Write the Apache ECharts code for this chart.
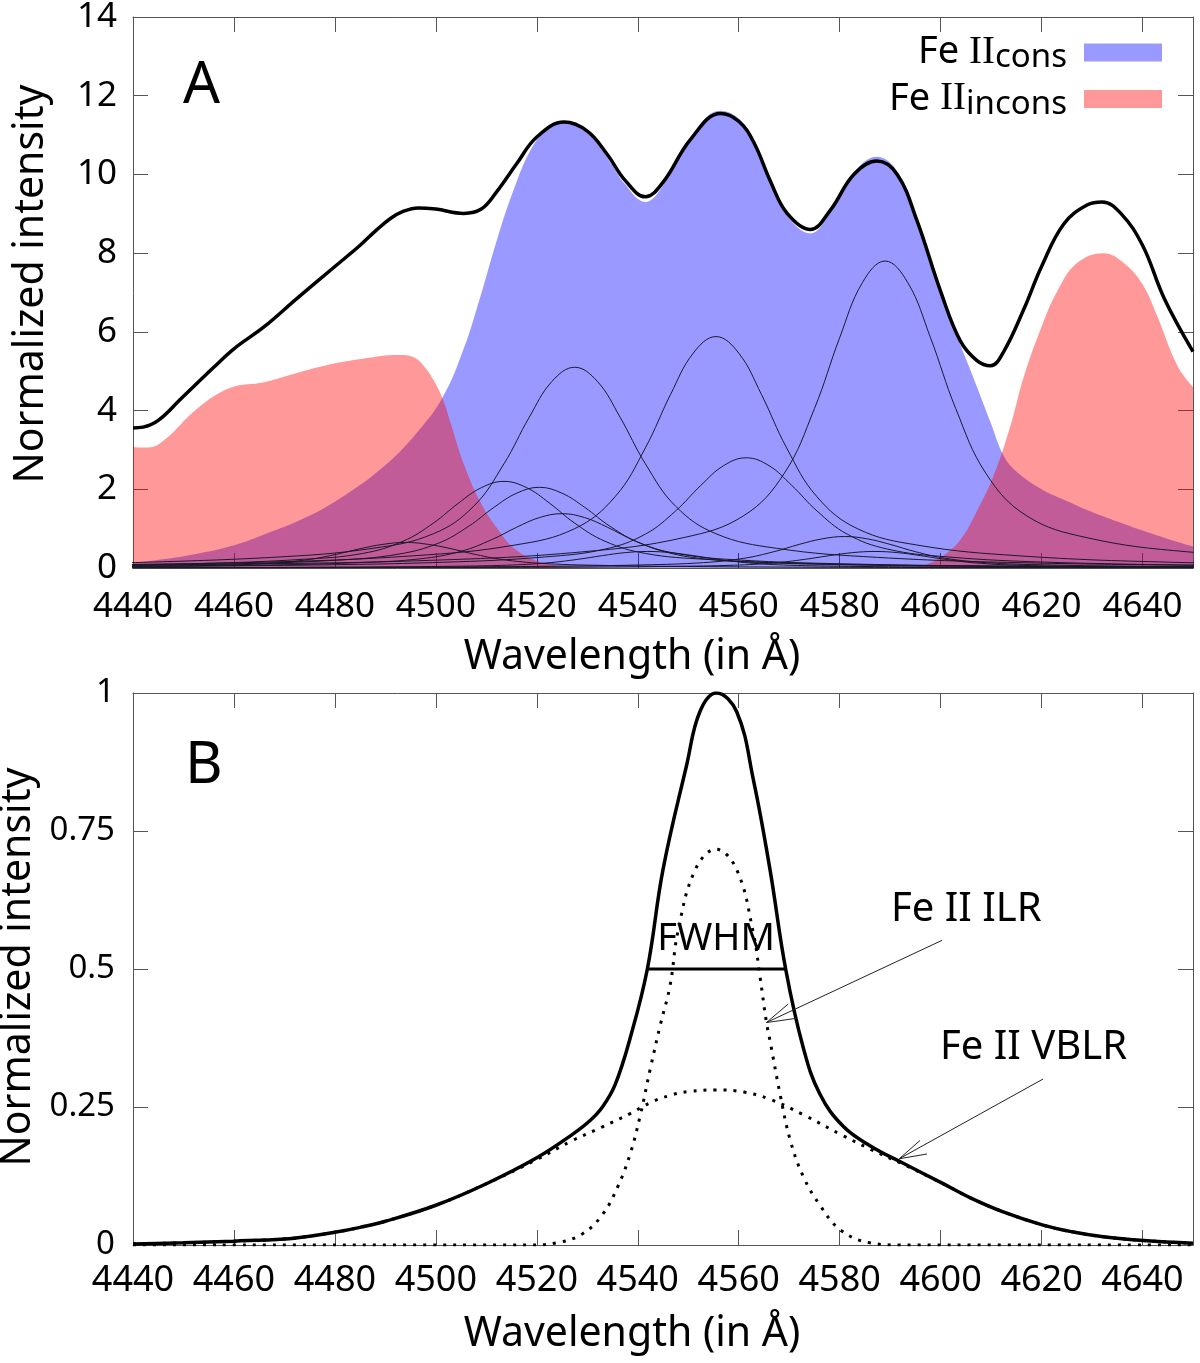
<!DOCTYPE html>
<html><head><meta charset="utf-8">
<script src="https://cdn.jsdelivr.net/npm/echarts@6/dist/echarts.min.js"></script>
<style>html,body{margin:0;padding:0;background:#fff}#c{width:1200px;height:1363px}</style>
</head><body><div id="c"></div>
<script>
// ---------- Panel A data (wavelength in Å, normalized intensity) ----------
const totalA = [[4440,3.56],[4442,3.58],[4445,3.75],[4449.5,4.3],[4456,5.1],[4460,5.57],[4466,6.13],[4472.5,6.85],[4480,7.66],[4485,8.2],[4488,8.56],[4491,8.88],[4493.5,9.06],[4496.5,9.15],[4500,9.12],[4505.5,9.01],[4509,9.12],[4512,9.55],[4516,10.27],[4520,10.95],[4525.4,11.33],[4530,11.1],[4534,10.5],[4537.5,9.85],[4541.5,9.43],[4545,9.8],[4550.5,10.9],[4556.4,11.55],[4560,11.35],[4563,10.81],[4566.3,9.82],[4569.6,9.01],[4574.2,8.6],[4578.2,9.1],[4582.8,10.0],[4587.4,10.34],[4591.4,10.0],[4595.3,8.83],[4600,7.03],[4603.9,5.77],[4607.2,5.27],[4609.9,5.14],[4612.5,5.5],[4616.5,6.58],[4620,7.66],[4624.4,8.74],[4629.1,9.23],[4632,9.3],[4635.7,9.01],[4640,8.2],[4644.3,6.85],[4650,5.5]];
const consA = [[4440,0.13],[4450,0.3],[4459.3,0.55],[4466,0.85],[4474.5,1.3],[4482,1.85],[4489.6,2.57],[4496,3.4],[4501.4,4.35],[4505.6,5.6],[4508.6,6.8],[4512.2,8.38],[4515.5,9.64],[4518.8,10.63],[4522.1,11.17],[4525.2,11.34],[4530,11.05],[4534,10.42],[4537.5,9.75],[4541.5,9.3],[4545,9.72],[4550.5,10.95],[4556.4,11.62],[4560,11.42],[4563,10.86],[4566.3,9.8],[4569.6,8.95],[4574.2,8.5],[4578.2,9.05],[4582.8,10.05],[4587.4,10.45],[4591.4,10.08],[4595.3,8.88],[4600,7.0],[4603.5,5.8],[4606,5.0],[4607.2,4.6],[4609.9,3.7],[4612.5,2.85],[4615,2.45],[4620,2.0],[4625,1.7],[4630,1.42],[4635,1.18],[4640,0.95],[4645,0.74],[4650,0.55]];
const inconsA = [[4440,3.07],[4443,3.06],[4446.2,3.25],[4452.8,4.06],[4459.3,4.58],[4466,4.72],[4471.3,4.91],[4478.3,5.15],[4485.8,5.32],[4492.4,5.41],[4495.7,5.35],[4497.5,5.15],[4499.5,4.78],[4501.5,4.25],[4503,3.65],[4505.6,2.62],[4509,1.63],[4512.2,1.0],[4515.5,0.5],[4520,0.18],[4525,0.05],[4530,0.01],[4540,0],[4590,0],[4595.9,0.05],[4600,0.27],[4603.9,0.72],[4607.2,1.45],[4610.5,2.35],[4613.8,3.6],[4616.5,4.87],[4620,6.13],[4623.1,7.03],[4627,7.75],[4632.3,8.0],[4636.3,7.75],[4640,7.21],[4642.9,6.4],[4646.9,5.14],[4650,4.6]];
// individual Fe II line components (thin black curves)
const comp1 = [[4437.5,0.13],[4467.5,0.27],[4487.5,0.5],[4499.5,0.87],[4507.5,1.57],[4513.5,2.65],[4518.5,3.83],[4523,4.74],[4527.5,5.1],[4532,4.74],[4536.5,3.83],[4541.5,2.65],[4547.5,1.57],[4555.5,0.87],[4567.5,0.5],[4587.5,0.27],[4617.5,0.13],[4657.5,0.064]];
const comp2 = [[4425.5,0.074],[4465.5,0.147],[4495.5,0.31],[4515.5,0.58],[4527.5,1.0],[4535.5,1.81],[4541.5,3.05],[4546.5,4.41],[4551,5.46],[4555.5,5.88],[4560,5.46],[4564.5,4.41],[4569.5,3.05],[4575.5,1.81],[4583.5,1.0],[4595.5,0.58],[4615.5,0.31],[4645.5,0.147],[4685.5,0.074]];
const comp3 = [[4431.5,0.035],[4471.5,0.07],[4501.5,0.146],[4521.5,0.28],[4533.5,0.48],[4541.5,0.86],[4547.5,1.45],[4552.5,2.1],[4557,2.6],[4561.5,2.8],[4566,2.6],[4570.5,2.1],[4575.5,1.45],[4581.5,0.86],[4589.5,0.48],[4601.5,0.28],[4621.5,0.146],[4651.5,0.07]];
const comp4 = [[4419,0.058],[4459,0.0975],[4499,0.195],[4529,0.41],[4549,0.77],[4561,1.33],[4569,2.4],[4575,4.05],[4580,5.85],[4584.5,7.25],[4589,7.8],[4593.5,7.25],[4598,5.85],[4603,4.05],[4609,2.4],[4617,1.33],[4629,0.77],[4649,0.41],[4679,0.195]];
const comp5 = [[4423.5,0.055],[4453.5,0.114],[4473.5,0.22],[4485.5,0.37],[4493.5,0.68],[4499.5,1.14],[4504.5,1.65],[4509,2.04],[4513.5,2.2],[4518,2.04],[4522.5,1.65],[4527.5,1.14],[4533.5,0.68],[4541.5,0.37],[4553.5,0.22],[4573.5,0.114],[4603.5,0.055],[4643.5,0.0275],[4683.5,0.016]];
const comp6 = [[4430.5,0.051],[4460.5,0.107],[4480.5,0.2],[4492.5,0.35],[4500.5,0.63],[4506.5,1.06],[4511.5,1.54],[4516,1.9],[4520.5,2.05],[4525,1.9],[4529.5,1.54],[4534.5,1.06],[4540.5,0.63],[4548.5,0.35],[4560.5,0.2],[4580.5,0.107],[4610.5,0.051],[4650.5,0.026]];
const comp7 = [[4435,0.0345],[4465,0.072],[4485,0.137],[4497,0.235],[4505,0.425],[4511,0.716],[4516,1.035],[4520.5,1.28],[4525,1.38],[4529.5,1.28],[4534,1.035],[4539,0.716],[4545,0.425],[4553,0.235],[4565,0.137],[4585,0.072],[4615,0.0345],[4655,0.017]];
const comp8 = [[4434,0.034],[4454,0.064],[4466,0.11],[4474,0.2],[4480,0.34],[4485,0.49],[4489.5,0.6],[4494,0.65],[4498.5,0.6],[4503,0.49],[4508,0.34],[4514,0.2],[4522,0.11],[4534,0.064],[4554,0.034],[4584,0.016],[4624,0.008],[4664,0.005]];
const comp9 = [[4411,0.006],[4451,0.01],[4491,0.02],[4521,0.042],[4541,0.079],[4553,0.136],[4561,0.246],[4567,0.415],[4572,0.6],[4576.5,0.74],[4581,0.8],[4585.5,0.74],[4590,0.6],[4595,0.415],[4601,0.246],[4609,0.136],[4621,0.079],[4641,0.042],[4671,0.02]];
const comp10 = [[4417,0.003],[4457,0.005],[4497,0.0105],[4527,0.022],[4547,0.042],[4559,0.071],[4567,0.129],[4573,0.218],[4578,0.315],[4582.5,0.39],[4587,0.42],[4591.5,0.39],[4596,0.315],[4601,0.218],[4607,0.129],[4615,0.071],[4627,0.042],[4647,0.022],[4677,0.0105]];
const comp11 = [[4412,0.005],[4452,0.0105],[4482,0.022],[4502,0.042],[4514,0.071],[4522,0.129],[4528,0.218],[4533,0.315],[4537.5,0.39],[4542,0.42],[4546.5,0.39],[4551,0.315],[4556,0.218],[4562,0.129],[4570,0.071],[4582,0.042],[4602,0.022],[4632,0.0105],[4672,0.005]];
const componentsA = [comp1,comp2,comp3,comp4,comp5,comp6,comp7,comp8,comp9,comp10,comp11];

// ---------- Panel B data ----------
const totalB = [[4440,0.002],[4450,0.004],[4460,0.007],[4470,0.011],[4475,0.016],[4480,0.023],[4485,0.032],[4490,0.043],[4500,0.072],[4510,0.111],[4520,0.158],[4527,0.2],[4530.5,0.225],[4533,0.25],[4535.5,0.29],[4538.5,0.375],[4541.9,0.5],[4545,0.68],[4549.7,0.87],[4552.3,0.966],[4555.6,1.0],[4559.6,0.966],[4562.9,0.843],[4566.2,0.68],[4569.3,0.5],[4572.8,0.357],[4576.1,0.273],[4580.7,0.215],[4586,0.18],[4592.6,0.148],[4600.3,0.112],[4606,0.085],[4612.4,0.06],[4620.3,0.036],[4626,0.024],[4632.2,0.015],[4640.3,0.008],[4650,0.003]];
const ilrB = [[4440,0],[4518,0],[4524,0.004],[4529,0.02],[4533,0.055],[4536,0.105],[4538.5,0.165],[4540.5,0.235],[4542.5,0.32],[4544.5,0.4],[4546.4,0.47],[4548,0.57],[4551.4,0.68],[4555.5,0.717],[4559.6,0.68],[4562.9,0.565],[4564.2,0.487],[4565.5,0.403],[4566.2,0.37],[4568.2,0.273],[4570.2,0.19],[4572.8,0.124],[4576.1,0.072],[4580.2,0.027],[4586,0.004],[4592,0],[4650,0]];
const vblrB = [[4440,0.002],[4450,0.004],[4460,0.007],[4470,0.011],[4475,0.016],[4480,0.023],[4485,0.032],[4490,0.043],[4500,0.072],[4510,0.111],[4520,0.155],[4527,0.189],[4533,0.214],[4538.5,0.238],[4542.5,0.258],[4546.4,0.271],[4550,0.278],[4555.5,0.281],[4561,0.277],[4566.2,0.264],[4572.8,0.236],[4580.7,0.198],[4586,0.174],[4592.6,0.146],[4600.3,0.112],[4606,0.085],[4612.4,0.06],[4620.3,0.036],[4626,0.024],[4632.2,0.015],[4640.3,0.008],[4650,0.003]];
const fwhmB = [[4541.9,0.5],[4569.3,0.5]];
const arrowILRShaft = [[4600.3,0.552],[4565.5,0.403]];
const arrowILRHead = [[4569.8,0.4366],[4565.5,0.403],[4571.5,0.4107]];
const arrowVBLRShaft = [[4620.3,0.3007],[4591.8,0.1562]];
const arrowVBLRHead = [[4595.9,0.1893],[4591.8,0.1562],[4597.3,0.1649]];
const seriesNames = ['Fe II cons','Fe II incons'];

const FONT = 'Noto Sans';
const axisCol = '#555';
function plainNum(v) { return String(v); }
function xAx(grid, pos, labels, fs, margin) {
  return {
    gridIndex: grid, type: 'value', min: 4440, max: 4650, interval: 20, position: pos,
    axisLine: {show: true, onZero: false, lineStyle: {color: axisCol, width: 1}},
    axisTick: {show: true, inside: true, length: 15, lineStyle: {color: axisCol, width: 1}},
    axisLabel: {show: labels, margin: margin, color: '#000', fontSize: fs, fontFamily: FONT, showMaxLabel: false, formatter: plainNum},
    splitLine: {show: false},
    name: labels ? 'Wavelength (in Å)' : '', nameLocation: 'middle', nameGap: 69,
    nameTextStyle: {fontSize: 41, color: '#000', fontFamily: FONT, padding: [0, 62, 0, 0]}
  };
}
function yAx(grid, pos, labels, max, interval, fs, margin, gap, pad) {
  return {
    gridIndex: grid, type: 'value', min: 0, max: max, interval: interval, position: pos,
    axisLine: {show: true, onZero: false, lineStyle: {color: axisCol, width: 1}},
    axisTick: {show: true, inside: true, length: 15, lineStyle: {color: axisCol, width: 1}},
    axisLabel: {show: labels, margin: margin, color: '#000', fontSize: fs, fontFamily: FONT, formatter: plainNum},
    splitLine: {show: false},
    name: labels ? 'Normalized intensity' : '', nameLocation: 'middle', nameGap: gap,
    nameTextStyle: {fontSize: 41, color: '#000', fontFamily: FONT, padding: pad}
  };
}

const series = [];
series.push({type: 'line', name: seriesNames[0], xAxisIndex: 0, yAxisIndex: 0, data: consA, smooth: 0.4, symbol: 'none',
  color: 'rgba(0,0,255,0.4)', lineStyle: {width: 0}, areaStyle: {color: 'rgba(0,0,255,0.4)', opacity: 1}, z: 1, silent: true});
series.push({type: 'line', name: seriesNames[1], xAxisIndex: 0, yAxisIndex: 0, data: inconsA, smooth: 0.4, symbol: 'none',
  color: 'rgba(255,0,0,0.4)', lineStyle: {width: 0}, areaStyle: {color: 'rgba(255,0,0,0.4)', opacity: 1}, z: 2, silent: true});
componentsA.forEach(function (c, i) {
  series.push({type: 'line', name: 'component ' + (i + 1), xAxisIndex: 0, yAxisIndex: 0, data: c, smooth: 0.4, symbol: 'none',
    lineStyle: {color: '#1a1a2a', width: 1}, z: 3, silent: true});
});
series.push({type: 'line', name: 'total', xAxisIndex: 0, yAxisIndex: 0, data: totalA, smooth: 0.4, symbol: 'none',
  lineStyle: {color: '#000', width: 3.5}, z: 4, silent: true});

// Panel B
series.push({type: 'line', name: 'ILR', xAxisIndex: 2, yAxisIndex: 2, data: ilrB, smooth: 0.4, symbol: 'none',
  lineStyle: {color: '#000', width: 3, type: [3, 7]}, z: 3, silent: true});
series.push({type: 'line', name: 'VBLR', xAxisIndex: 2, yAxisIndex: 2, data: vblrB, smooth: 0.4, symbol: 'none',
  lineStyle: {color: '#000', width: 3, type: [3, 7]}, z: 3, silent: true});
series.push({type: 'line', name: 'profile', xAxisIndex: 2, yAxisIndex: 2, data: totalB, smooth: 0.4, symbol: 'none',
  lineStyle: {color: '#000', width: 3.5}, z: 4, silent: true});
series.push({type: 'line', name: 'FWHM', xAxisIndex: 2, yAxisIndex: 2, data: fwhmB, symbol: 'none',
  lineStyle: {color: '#000', width: 3}, z: 4, silent: true});
[arrowILRShaft, arrowILRHead, arrowVBLRShaft, arrowVBLRHead].forEach(function (a, i) {
  series.push({type: 'line', name: 'arrow' + i, xAxisIndex: 2, yAxisIndex: 2, data: a, symbol: 'none',
    lineStyle: {color: '#222', width: 1}, z: 5, silent: true});
});

const option = {
  animation: false,
  backgroundColor: '#fff',
  grid: [
    {left: 133, right: 7, top: 17, bottom: 795, containLabel: false, outerBoundsMode: 'none'},
    {left: 133, right: 7, top: 693, bottom: 118, containLabel: false, outerBoundsMode: 'none'}
  ],
  xAxis: [xAx(0, 'bottom', true, 35, 22), xAx(0, 'top', false, 35, 22), xAx(1, 'bottom', true, 36, 18), xAx(1, 'top', false, 36, 18)],
  yAxis: [yAx(0, 'left', true, 14, 2, 35, 16, 81, [0, 0, 0, 17]), yAx(0, 'right', false, 14, 2, 35, 16, 81, [0, 0, 0, 0]),
          yAx(1, 'left', true, 1, 0.25, 33, 18, 87, [0, 0, 0, 4]), yAx(1, 'right', false, 1, 0.25, 33, 18, 87, [0, 0, 0, 0])],
  legend: {
    orient: 'vertical', right: 38, top: 33, align: 'right', itemWidth: 78, itemHeight: 18, itemGap: 5, padding: 0,
    selectedMode: false, icon: 'rect',
    data: [{name: seriesNames[0], itemStyle: {color: 'rgba(0,0,255,0.4)'}}, {name: seriesNames[1], itemStyle: {color: 'rgba(255,0,0,0.4)'}}],
    formatter: function (name) { return name === seriesNames[0] ? '{n|Fe }{r|II}{s|cons}' : '{n|Fe }{r|II}{s|incons}'; },
    textStyle: {padding: [0, 12, 0, 0], rich: {
      n: {fontSize: 38, fontFamily: FONT, color: '#000', lineHeight: 44},
      r: {fontSize: 39, fontFamily: 'Liberation Serif', color: '#000', lineHeight: 44},
      s: {fontSize: 33, fontFamily: FONT, color: '#000', lineHeight: 26, verticalAlign: 'bottom'}
    }}
  },
  graphic: [
    {type: 'text', x: 183, y: 86, style: {text: 'A', fontSize: 58, fontFamily: FONT, fill: '#000', align: 'left', verticalAlign: 'middle'}},
    {type: 'text', x: 185, y: 766, style: {text: 'B', fontSize: 58, fontFamily: FONT, fill: '#000', align: 'left', verticalAlign: 'middle'}},
    {type: 'text', x: 716, y: 939, style: {text: 'FWHM', fontSize: 38, fontFamily: FONT, fill: '#000', align: 'center', verticalAlign: 'middle'}},
    {type: 'text', x: 891, y: 910, style: {text: 'Fe II ILR', fontSize: 40, fontFamily: FONT, fill: '#000', align: 'left', verticalAlign: 'middle'}},
    {type: 'text', x: 940, y: 1048, style: {text: 'Fe II VBLR', fontSize: 40, fontFamily: FONT, fill: '#000', align: 'left', verticalAlign: 'middle'}}
  ],
  series: series
};
const chart = echarts.init(document.getElementById('c'), null, {renderer: 'canvas'});
chart.setOption(option);
</script></body></html>
